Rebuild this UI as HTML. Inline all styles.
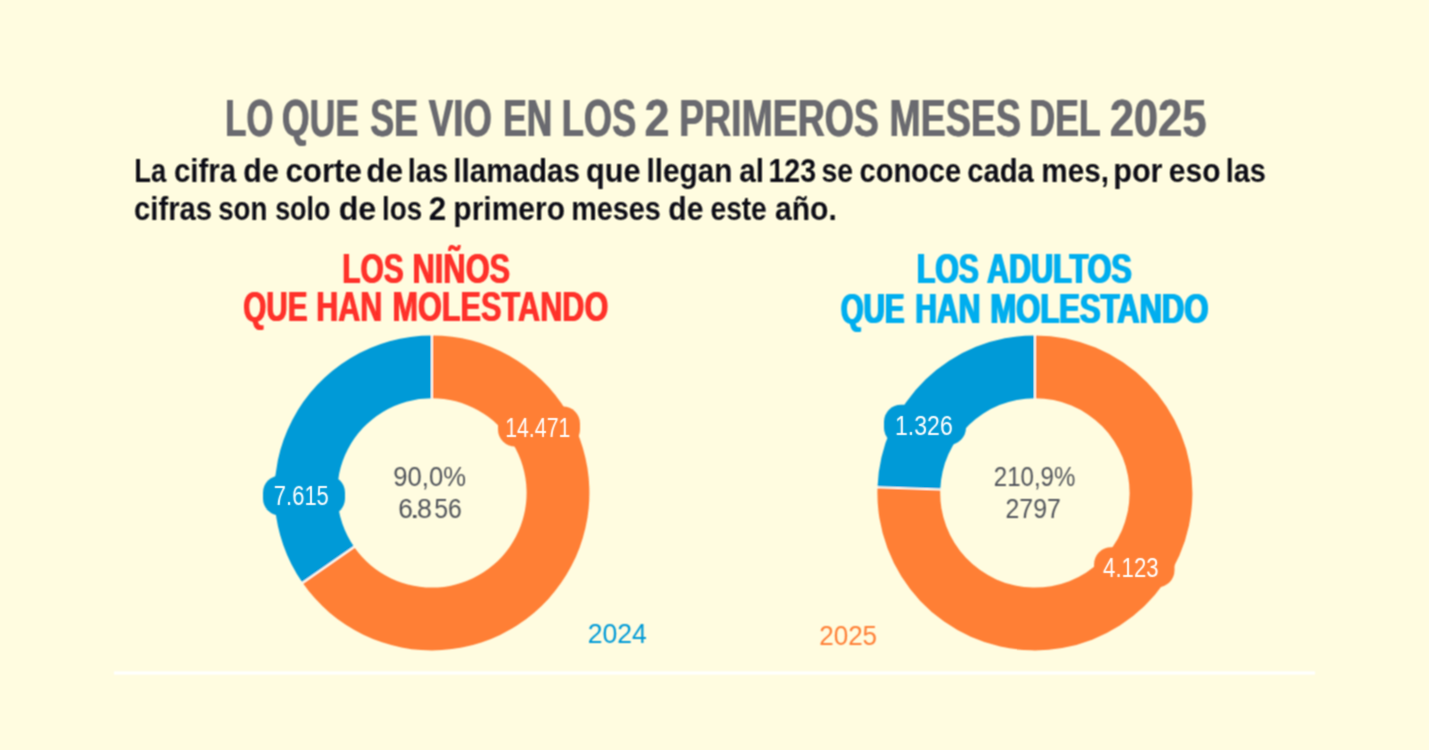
<!DOCTYPE html>
<html lang="es">
<head>
<meta charset="utf-8">
<title>Lo que se vio en los 2 primeros meses del 2025</title>
<style>
html,body{margin:0;padding:0;background:#FFFCE0;}
body{width:1429px;height:750px;overflow:hidden;font-family:"Liberation Sans",sans-serif;}
svg{display:block;}
svg text{font-family:"Liberation Sans",sans-serif;}
</style>
</head>
<body>
<svg width="1429" height="750" viewBox="0 0 1429 750">
<defs><filter id="soft" filterUnits="userSpaceOnUse" x="0" y="0" width="1429" height="750"><feConvolveMatrix order="3" kernelMatrix="1 2 1 2 4 2 1 2 1" divisor="16" edgeMode="none" preserveAlpha="false"/></filter><filter id="soft2" filterUnits="userSpaceOnUse" x="0" y="0" width="1429" height="750"><feConvolveMatrix order="3" kernelMatrix="1 4 1 4 16 4 1 4 1" divisor="36" edgeMode="none" preserveAlpha="false"/></filter></defs>
<rect width="1429" height="750" fill="#FFFCE0"/>
<g filter="url(#soft)">
<g font-size="51.4" font-weight="bold" fill="#6A6B6F">
<text x="224.66" y="136" textLength="48.50" lengthAdjust="spacingAndGlyphs">LO</text><text x="225.46" y="136" textLength="48.50" lengthAdjust="spacingAndGlyphs">LO</text>
<text x="281.54" y="136" textLength="77.25" lengthAdjust="spacingAndGlyphs">QUE</text><text x="282.34" y="136" textLength="77.25" lengthAdjust="spacingAndGlyphs">QUE</text>
<text x="369.75" y="136" textLength="48.15" lengthAdjust="spacingAndGlyphs">SE</text><text x="370.55" y="136" textLength="48.15" lengthAdjust="spacingAndGlyphs">SE</text>
<text x="428.34" y="136" textLength="63.29" lengthAdjust="spacingAndGlyphs">VIO</text><text x="429.14" y="136" textLength="63.29" lengthAdjust="spacingAndGlyphs">VIO</text>
<text x="502.83" y="136" textLength="49.04" lengthAdjust="spacingAndGlyphs">EN</text><text x="503.63" y="136" textLength="49.04" lengthAdjust="spacingAndGlyphs">EN</text>
<text x="561.37" y="136" textLength="74.44" lengthAdjust="spacingAndGlyphs">LOS</text><text x="562.17" y="136" textLength="74.44" lengthAdjust="spacingAndGlyphs">LOS</text>
<text x="644.16" y="136" textLength="24.83" lengthAdjust="spacingAndGlyphs">2</text><text x="644.96" y="136" textLength="24.83" lengthAdjust="spacingAndGlyphs">2</text>
<text x="678.79" y="136" textLength="199.67" lengthAdjust="spacingAndGlyphs">PRIMEROS</text><text x="679.59" y="136" textLength="199.67" lengthAdjust="spacingAndGlyphs">PRIMEROS</text>
<text x="888.88" y="136" textLength="131.79" lengthAdjust="spacingAndGlyphs">MESES</text><text x="889.68" y="136" textLength="131.79" lengthAdjust="spacingAndGlyphs">MESES</text>
<text x="1028.90" y="136" textLength="71.50" lengthAdjust="spacingAndGlyphs">DEL</text><text x="1029.70" y="136" textLength="71.50" lengthAdjust="spacingAndGlyphs">DEL</text>
<text x="1109.40" y="136" textLength="96.70" lengthAdjust="spacingAndGlyphs">2025</text><text x="1110.20" y="136" textLength="96.70" lengthAdjust="spacingAndGlyphs">2025</text>
</g>
<g font-size="33.4" font-weight="bold" fill="#0B0B14">
<text x="134.27" y="181.7" textLength="31.96" lengthAdjust="spacingAndGlyphs">La</text>
<text x="173.95" y="181.7" textLength="62.27" lengthAdjust="spacingAndGlyphs">cifra</text>
<text x="243.35" y="181.7" textLength="35.48" lengthAdjust="spacingAndGlyphs">de</text>
<text x="285.38" y="181.7" textLength="76.49" lengthAdjust="spacingAndGlyphs">corte</text>
<text x="366.20" y="181.7" textLength="36.87" lengthAdjust="spacingAndGlyphs">de</text>
<text x="407.66" y="181.7" textLength="40.43" lengthAdjust="spacingAndGlyphs">las</text>
<text x="453.23" y="181.7" textLength="126.69" lengthAdjust="spacingAndGlyphs">llamadas</text>
<text x="586.04" y="181.7" textLength="54.51" lengthAdjust="spacingAndGlyphs">que</text>
<text x="646.52" y="181.7" textLength="85.81" lengthAdjust="spacingAndGlyphs">llegan</text>
<text x="739.22" y="181.7" textLength="24.79" lengthAdjust="spacingAndGlyphs">al</text>
<text x="768.50" y="181.7" textLength="47.62" lengthAdjust="spacingAndGlyphs">123</text>
<text x="821.41" y="181.7" textLength="31.57" lengthAdjust="spacingAndGlyphs">se</text>
<text x="859.57" y="181.7" textLength="101.52" lengthAdjust="spacingAndGlyphs">conoce</text>
<text x="967.16" y="181.7" textLength="66.56" lengthAdjust="spacingAndGlyphs">cada</text>
<text x="1041.34" y="181.7" textLength="67.64" lengthAdjust="spacingAndGlyphs">mes,</text>
<text x="1113.18" y="181.7" textLength="49.39" lengthAdjust="spacingAndGlyphs">por</text>
<text x="1168.83" y="181.7" textLength="51.63" lengthAdjust="spacingAndGlyphs">eso</text>
<text x="1225.68" y="181.7" textLength="40.11" lengthAdjust="spacingAndGlyphs">las</text>
</g>
<g font-size="33.4" font-weight="bold" fill="#0B0B14">
<text x="134.06" y="219.6" textLength="77.94" lengthAdjust="spacingAndGlyphs">cifras</text>
<text x="218.23" y="219.6" textLength="49.07" lengthAdjust="spacingAndGlyphs">son</text>
<text x="275.16" y="219.6" textLength="55.28" lengthAdjust="spacingAndGlyphs">solo</text>
<text x="338.68" y="219.6" textLength="37.62" lengthAdjust="spacingAndGlyphs">de</text>
<text x="382.06" y="219.6" textLength="40.09" lengthAdjust="spacingAndGlyphs">los</text>
<text x="428.82" y="219.6" textLength="17.44" lengthAdjust="spacingAndGlyphs">2</text>
<text x="453.32" y="219.6" textLength="111.64" lengthAdjust="spacingAndGlyphs">primero</text>
<text x="571.20" y="219.6" textLength="89.59" lengthAdjust="spacingAndGlyphs">meses</text>
<text x="668.36" y="219.6" textLength="35.16" lengthAdjust="spacingAndGlyphs">de</text>
<text x="710.50" y="219.6" textLength="56.25" lengthAdjust="spacingAndGlyphs">este</text>
<text x="775.01" y="219.6" textLength="61.85" lengthAdjust="spacingAndGlyphs">año.</text>
</g>
<g font-size="43.4" font-weight="bold" fill="#FF3029">
<text x="341.80" y="282.8" textLength="61.48" lengthAdjust="spacingAndGlyphs">LOS</text><text x="342.80" y="282.8" textLength="61.48" lengthAdjust="spacingAndGlyphs">LOS</text>
<text x="412.03" y="282.8" textLength="97.67" lengthAdjust="spacingAndGlyphs">NIÑOS</text><text x="413.03" y="282.8" textLength="97.67" lengthAdjust="spacingAndGlyphs">NIÑOS</text>
</g>
<g font-size="43.4" font-weight="bold" fill="#FF3029">
<text x="242.68" y="321.4" textLength="64.38" lengthAdjust="spacingAndGlyphs">QUE</text><text x="243.68" y="321.4" textLength="64.38" lengthAdjust="spacingAndGlyphs">QUE</text>
<text x="315.66" y="321.4" textLength="66.09" lengthAdjust="spacingAndGlyphs">HAN</text><text x="316.66" y="321.4" textLength="66.09" lengthAdjust="spacingAndGlyphs">HAN</text>
<text x="391.94" y="321.4" textLength="215.93" lengthAdjust="spacingAndGlyphs">MOLESTANDO</text><text x="392.94" y="321.4" textLength="215.93" lengthAdjust="spacingAndGlyphs">MOLESTANDO</text>
</g>
<g font-size="42.5" font-weight="bold" fill="#00AEEF">
<text x="916.08" y="283.0" textLength="61.90" lengthAdjust="spacingAndGlyphs">LOS</text><text x="917.78" y="283.0" textLength="61.90" lengthAdjust="spacingAndGlyphs">LOS</text>
<text x="986.14" y="283.0" textLength="144.85" lengthAdjust="spacingAndGlyphs">ADULTOS</text><text x="987.84" y="283.0" textLength="144.85" lengthAdjust="spacingAndGlyphs">ADULTOS</text>
</g>
<g font-size="42.5" font-weight="bold" fill="#00AEEF">
<text x="839.90" y="323.0" textLength="63.65" lengthAdjust="spacingAndGlyphs">QUE</text><text x="841.60" y="323.0" textLength="63.65" lengthAdjust="spacingAndGlyphs">QUE</text>
<text x="914.38" y="323.0" textLength="65.24" lengthAdjust="spacingAndGlyphs">HAN</text><text x="916.08" y="323.0" textLength="65.24" lengthAdjust="spacingAndGlyphs">HAN</text>
<text x="989.52" y="323.0" textLength="218.07" lengthAdjust="spacingAndGlyphs">MOLESTANDO</text><text x="991.22" y="323.0" textLength="218.07" lengthAdjust="spacingAndGlyphs">MOLESTANDO</text>
</g>
<path d="M431.90 335.40A157.5 157.5 0 1 1 302.57 582.79L354.14 546.95A94.7 94.7 0 1 0 431.90 398.20Z" fill="#FF7F36"/>
<path d="M302.57 582.79A157.5 157.5 0 0 1 431.90 335.40L431.90 398.20A94.7 94.7 0 0 0 354.14 546.95Z" fill="#009AD7"/>
<line x1="431.90" y1="334.90" x2="431.90" y2="398.70" stroke="#FFFDF0" stroke-width="2"/>
<line x1="302.16" y1="583.07" x2="354.55" y2="546.66" stroke="#FFFDF0" stroke-width="2"/>
<path d="M1034.90 335.40A157.5 157.5 0 1 1 877.50 487.27L940.26 489.51A94.7 94.7 0 1 0 1034.90 398.20Z" fill="#FF7F36"/>
<path d="M877.50 487.27A157.5 157.5 0 0 1 1034.90 335.40L1034.90 398.20A94.7 94.7 0 0 0 940.26 489.51Z" fill="#009AD7"/>
<line x1="1034.90" y1="334.90" x2="1034.90" y2="398.70" stroke="#FFFDF0" stroke-width="2"/>
<line x1="877.00" y1="487.25" x2="940.76" y2="489.53" stroke="#FFFDF0" stroke-width="2"/>
<rect x="263" y="475.6" width="82.0" height="40.0" rx="17" ry="17" fill="#009AD7"/>
<rect x="498" y="406.5" width="82.0" height="40.0" rx="17" ry="17" fill="#FF7F36"/>
<rect x="884" y="404.7" width="82.0" height="40.0" rx="17" ry="17" fill="#009AD7"/>
<rect x="1094.1" y="547.2" width="80.4" height="40.0" rx="17" ry="17" fill="#FF7F36"/>
<g font-size="27.6" font-weight="normal" fill="#50535A">
<text x="393.30" y="486.3" textLength="72.61" lengthAdjust="spacingAndGlyphs">90,0%</text>
</g>
<g font-size="27.6" font-weight="normal" fill="#50535A">
<text x="398.16" y="518.3" textLength="14.60" lengthAdjust="spacingAndGlyphs">6</text>
<text x="409.53" y="518.3" textLength="10.53" lengthAdjust="spacingAndGlyphs">.</text>
<text x="417.03" y="518.3" textLength="14.94" lengthAdjust="spacingAndGlyphs">8</text>
<text x="434.21" y="518.3" textLength="27.59" lengthAdjust="spacingAndGlyphs">56</text>
</g>
<g font-size="27.6" font-weight="normal" fill="#50535A">
<text x="993.79" y="486.3" textLength="81.57" lengthAdjust="spacingAndGlyphs">210,9%</text>
</g>
<g font-size="27.6" font-weight="normal" fill="#50535A">
<text x="1005.54" y="518.3" textLength="55.30" lengthAdjust="spacingAndGlyphs">2797</text>
</g>
<g font-size="27.8" font-weight="normal" fill="#009AD7">
<text x="587.66" y="642.8" textLength="59.22" lengthAdjust="spacingAndGlyphs">2024</text>
</g>
<g font-size="27.8" font-weight="normal" fill="#FF7F36">
<text x="819.19" y="644.7" textLength="57.91" lengthAdjust="spacingAndGlyphs">2025</text>
</g>
<rect x="114" y="671.4" width="1201" height="3.2" fill="#FFFFFF"/>
</g>
<g filter="url(#soft2)">
<g font-size="27.9" font-weight="normal" fill="#FFFFFF">
<text x="273.87" y="504.7" textLength="54.95" lengthAdjust="spacingAndGlyphs">7.615</text>
</g>
<g font-size="28.0" font-weight="normal" fill="#FFFFFF">
<text x="505.18" y="436.9" textLength="65.15" lengthAdjust="spacingAndGlyphs">14.471</text>
</g>
<g font-size="28.0" font-weight="normal" fill="#FFFFFF">
<text x="895.05" y="434.7" textLength="57.66" lengthAdjust="spacingAndGlyphs">1.326</text>
</g>
<g font-size="28.0" font-weight="normal" fill="#FFFFFF">
<text x="1103.09" y="577.0" textLength="55.48" lengthAdjust="spacingAndGlyphs">4.123</text>
</g>
</g>
</svg>
</body>
</html>
